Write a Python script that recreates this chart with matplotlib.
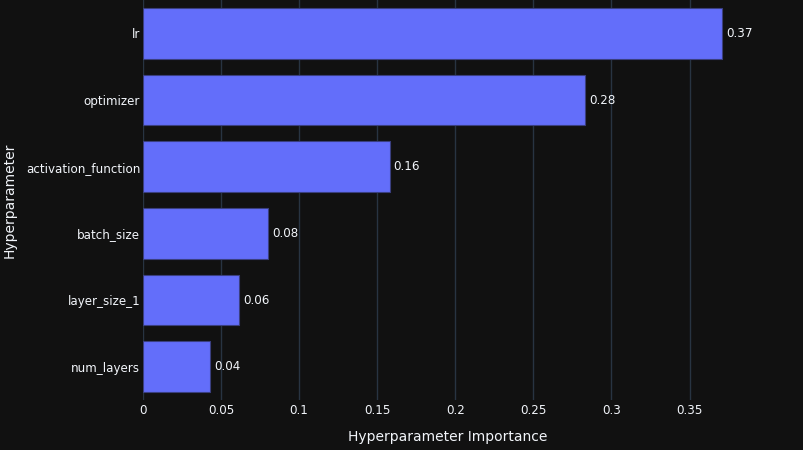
import matplotlib.pyplot as plt

params = ["lr", "optimizer", "activation_function", "batch_size", "layer_size_1", "num_layers"]
importance = [0.371, 0.283, 0.158, 0.080, 0.0615, 0.043]
xticks = [0, 0.05, 0.1, 0.15, 0.2, 0.25, 0.3, 0.35]
xtick_labels = ["0", "0.05", "0.1", "0.15", "0.2", "0.25", "0.3", "0.35"]

BG = "#111111"
BAR = "#636efa"
GRID = "#283442"
TXT = "#f2f5fa"

plt.rcParams["font.family"] = ["DejaVu Sans"]

fig = plt.figure(figsize=(8.04, 4.5), dpi=100, facecolor=BG)
ax = fig.add_axes([143 / 804, 50 / 450, (752 - 143) / 804, 400 / 450])
ax.set_facecolor(BG)

ypos = list(range(len(params)))
ax.barh(ypos, importance, height=0.76, color=BAR, edgecolor="#3a3f80", linewidth=0.8, zorder=3)
for y, v in zip(ypos, importance):
    ax.text(v + 0.0025, y, f"{v:.2f}", color=TXT, fontsize=8.6, va="center", ha="left", zorder=4)

ax.set_ylim(len(params) - 0.5, -0.5)
ax.set_xlim(0, 0.39)
ax.set_yticks(ypos)
ax.set_yticklabels(params)
ax.set_xticks(xticks)
ax.set_xticklabels(xtick_labels)

ax.grid(axis="x", color=GRID, linewidth=1, zorder=0)
ax.tick_params(axis="both", length=0, colors=TXT, labelsize=8.6)
ax.tick_params(axis="x", pad=3)
ax.tick_params(axis="y", pad=2)
for s in ax.spines.values():
    s.set_visible(False)

ax.set_xlabel("Hyperparameter Importance", color=TXT, fontsize=10, labelpad=9)
ax.set_ylabel("Hyperparameter", color=TXT, fontsize=10)
ax.yaxis.set_label_coords((17 - 143) / 609, 0.5)

fig.savefig("out.png", dpi=100, facecolor=BG)
